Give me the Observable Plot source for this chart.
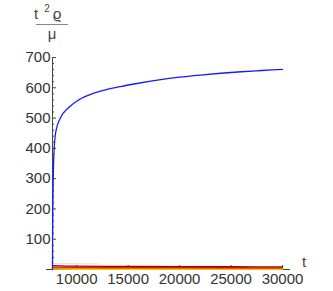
<!DOCTYPE html>
<html>
<head>
<meta charset="utf-8">
<script src="https://cdn.jsdelivr.net/npm/d3@7"></script>
<script src="https://cdn.jsdelivr.net/npm/@observablehq/plot@0.6"></script>
<style>
  html, body { margin: 0; padding: 0; background: #fff; }
  svg { display: block; }
</style>
</head>
<body>
<div id="chart"></div>
<script>
// Domain
const tMin = 7650, tMax = 30000;
const yTicks = [100, 200, 300, 400, 500, 600, 700];
const xTicks = [10000, 15000, 20000, 25000, 30000];

// Blue series: t^2 rho / mu
const blueT = [7650, 7660, 7700, 7750, 7800, 7900, 8000, 8430, 9230, 10200, 11500, 12800, 14250, 16000, 18000, 20000, 22000, 24000, 26000, 28000, 30000];
const blueV = [0, 100, 250, 345, 392, 438, 460, 501, 535, 560, 580, 593, 604, 615, 626, 635, 642, 648, 653, 657, 661];

// Lower series near zero
const lowT = [7650, 10000, 15000, 20000, 25000, 30000];
const darkRedV = [13, 11, 10, 9.5, 9, 8.5];
const redV = [8, 7, 6.5, 6, 5.8, 5.5];
const orangeV = [4, 3.8, 3.5, 3.3, 3.1, 3];
const yellowV = [1, 0.9, 0.8, 0.7, 0.6, 0.5];
const grayT = [7650, 9000, 10500, 12000];
const grayV = [20, 19.5, 19, 19];

const zip = (ts, vs) => ts.map((t, i) => ({t, v: vs[i]}));
const series = [
  {data: zip(grayT, grayV), color: "#e2e2e2", w: 1},
  {data: zip(lowT, yellowV), color: "#f5d000", w: 1.3},
  {data: zip(lowT, orangeV), color: "#f39000", w: 1.3},
  {data: zip(lowT, redV), color: "#e02010", w: 1.3},
  {data: zip(lowT, darkRedV), color: "#a80000", w: 1.3},
  {data: zip(blueT, blueV), color: "#1a1aff", w: 1.3}
];

const minorY = d3.range(20, 701, 20).filter(d => d % 100 !== 0);
const minorX = d3.range(8000, 30001, 1000).filter(d => d % 5000 !== 0);

const axisColor = "#444";
const plot = Plot.plot({
  width: 333,
  height: 291,
  marginLeft: 52,
  marginRight: 51,
  marginTop: 57,
  marginBottom: 22,
  style: {fontFamily: "'Liberation Sans', Arial, sans-serif", fontSize: "15px", color: "#333", background: "#fff"},
  x: {domain: [tMin, tMax]},
  y: {domain: [0, 700]},
  marks: [
    Plot.axisY({ticks: yTicks, tickSize: -4, tickPadding: 6, tickFormat: d3.format("d"), label: null, stroke: axisColor, fill: "#333"}),
    Plot.axisY({ticks: minorY, tickSize: -2, tickFormat: () => "", label: null, stroke: axisColor}),
    Plot.axisX({ticks: xTicks, tickSize: -4, tickPadding: 8, tickFormat: d3.format("d"), label: null, stroke: axisColor, fill: "#333"}),
    Plot.axisX({ticks: minorX, tickSize: -2, tickFormat: () => "", label: null, stroke: axisColor}),
    Plot.ruleY([0], {x1: tMin, x2: tMax, insetLeft: -6, insetRight: -8, stroke: axisColor}),
    Plot.ruleX([tMin], {y1: 0, y2: 700, stroke: axisColor}),
    ...series.map(s => Plot.line(s.data, {x: "t", y: "v", stroke: s.color, strokeWidth: s.w, curve: "monotone-x"}))
  ]
});
document.getElementById("chart").append(plot);

// Axis labels (Mathematica-style)
const svg = d3.select(plot);
const lab = svg.append("g").attr("font-family", "'Liberation Sans', Arial, sans-serif").attr("fill", "#444");
lab.append("text").attr("x", 36).attr("y", 19).attr("font-size", 15).text("t");
lab.append("text").attr("x", 47).attr("y", 12).attr("font-size", 10).text("2");
lab.append("text").attr("x", 57).attr("y", 19).attr("font-size", 15).text("ϱ");
lab.append("line").attr("x1", 36).attr("x2", 68).attr("y1", 24.5).attr("y2", 24.5).attr("stroke", "#888").attr("stroke-width", 1);
lab.append("text").attr("x", 52).attr("y", 39).attr("text-anchor", "middle").attr("font-size", 15).text("μ");
lab.append("text").attr("x", 304).attr("y", 267).attr("text-anchor", "middle").attr("font-size", 15).text("t");
</script>
</body>
</html>
